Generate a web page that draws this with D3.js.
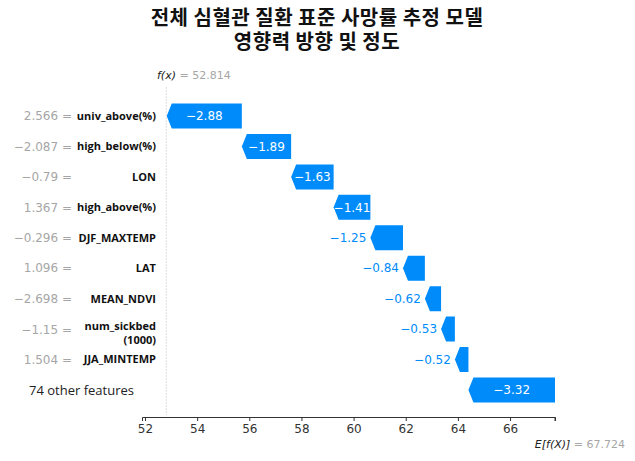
<!DOCTYPE html>
<html><head><meta charset="utf-8">
<script src="https://cdn.jsdelivr.net/npm/d3@7"></script>
<style>
body{margin:0;background:#fff;}
svg{display:block;}
</style></head>
<body>
<svg id="chart" width="635" height="461"></svg>
<script>
const titleLines = ["전체 심혈관 질환 표준 사망률 추정 모델", "영향력 방향 및 정도"];
const features = ["univ_above(%)", "high_below(%)", "LON", "high_above(%)", "DJF_MAXTEMP", "LAT", "MEAN_NDVI", "num_sickbed\n(1000)", "JJA_MINTEMP", "74 other features"];
const featureValues = ["2.566", "−2.087", "−0.79", "1.367", "−0.296", "1.096", "−2.698", "−1.15", "1.504", null];
const shapValues = [-2.88, -1.89, -1.63, -1.41, -1.25, -0.84, -0.62, -0.53, -0.52, -3.32];
const fxValue = 52.814;
const baseValue = 67.724;
const xTicks = [52, 54, 56, 58, 60, 62, 64, 66];

const svg = d3.select("#chart");
const blue = "#008bfb";
const grey = "#a6a6a6";

// title
svg.append("g").selectAll("text").data(titleLines).join("text")
  .attr("x", 317).attr("y", (d, i) => 25 + i * 24)
  .attr("text-anchor", "middle")
  .attr("font-family", "'Noto Sans CJK KR', sans-serif")
  .attr("font-weight", "bold").attr("font-size", 20)
  .attr("letter-spacing", 0.5)
  .attr("fill", "#111").text(d => d);

const x = d3.scaleLinear().domain([51.885, baseValue]).range([142, 555]);
const y = d3.scalePoint().domain(d3.range(features.length)).range([116, 390]);
const barH = 25;

// compute cumulative positions from the base value upward
const bars = [];
let end = baseValue;
for (let i = features.length - 1; i >= 0; i--) {
  const start = end + shapValues[i];
  bars[i] = {i, v: shapValues[i], x0: Math.min(start, end), x1: Math.max(start, end)};
  end = start;
}

// f(x) vertical line
svg.append("line")
  .attr("x1", x(fxValue)).attr("x2", x(fxValue))
  .attr("y1", 87).attr("y2", 415)
  .attr("stroke", "#ddd").attr("stroke-width", 1).attr("stroke-dasharray", "2,1");

// bars
const head = 5;
svg.append("g").selectAll("path").data(bars).join("path")
  .attr("d", d => {
    const a = x(d.x0), b = x(d.x1), c = y(d.i), t = c - barH / 2, bt = c + barH / 2;
    const h = Math.min(head, b - a);
    return `M${b},${t}L${b},${bt}L${a + h},${bt}L${a},${c}L${a + h},${t}Z`;
  })
  .attr("fill", blue);

// bar labels
const fmt = v => (v < 0 ? "−" : "+") + Math.abs(v).toFixed(2);
svg.append("g").selectAll("text").data(bars).join("text")
  .each(function(d) {
    const w = x(d.x1) - x(d.x0);
    const inside = w >= 34;
    d3.select(this)
      .attr("x", inside ? (x(d.x0) + x(d.x1)) / 2 : x(d.x0) - 4)
      .attr("text-anchor", inside ? "middle" : "end")
      .attr("fill", inside ? "#fff" : blue);
  })
  .attr("y", d => y(d.i)).attr("dy", "0.35em")
  .attr("font-family", "'DejaVu Sans', sans-serif").attr("font-size", 12)
  .text(d => fmt(d.v));

// feature names
const nameG = svg.append("g");
features.forEach((f, i) => {
  if (featureValues[i] === null) {
    nameG.append("text").attr("x", 134).attr("y", y(i)).attr("dy", "0.35em")
      .attr("text-anchor", "end")
      .attr("font-family", "'Open Sans', sans-serif").attr("font-size", 13)
      .attr("fill", "#222").text(f);
    return;
  }
  const lines = f.split("\n");
  lines.forEach((ln, k) => {
    nameG.append("text").attr("x", 156).attr("text-anchor", "end")
      .attr("font-family", "'Open Sans', sans-serif").attr("font-weight", "bold")
      .attr("font-size", 11).attr("fill", "#111")
      .attr("y", y(i) + (lines.length > 1 ? (k === 0 ? -3 : 11) : 0)).attr("dy", "0.35em").text(ln);
  });
  nameG.append("text").attr("x", 72).attr("y", y(i) + (lines.length > 1 ? 1 : 0)).attr("dy", "0.35em")
    .attr("text-anchor", "end")
    .attr("font-family", "'DejaVu Sans', sans-serif").attr("font-size", 12)
    .attr("fill", grey).text(featureValues[i] + " =");
});

// axis
const axis = svg.append("g").attr("transform", "translate(0,417)")
  .call(d3.axisBottom(x).tickValues(xTicks).tickFormat(d3.format("d")).tickSizeOuter(4).tickSize(4).tickPadding(3));
axis.select(".domain").attr("stroke", "#333");
axis.selectAll(".tick line").attr("stroke", "#333");
axis.selectAll(".tick text").attr("font-family", "'DejaVu Sans', sans-serif").attr("font-size", 12).attr("fill", "#333");
axis.append("line").attr("x1", x(baseValue)).attr("x2", x(baseValue)).attr("y1", 0).attr("y2", 4).attr("stroke", "#333");

// f(x) label
const fxT = svg.append("text").attr("x", 157).attr("y", 79)
  .attr("font-family", "'DejaVu Sans', sans-serif").attr("font-size", 11);
fxT.append("tspan").attr("font-style", "italic").attr("fill", "#222").text("f(x)");
fxT.append("tspan").attr("fill", grey).text(" = " + fxValue.toFixed(3));

// E[f(X)] label
const eT = svg.append("text").attr("x", 625).attr("y", 448).attr("text-anchor", "end")
  .attr("font-family", "'DejaVu Sans', sans-serif").attr("font-size", 11);
eT.append("tspan").attr("font-style", "italic").attr("fill", "#222").text("E[f(X)]");
eT.append("tspan").attr("fill", grey).text(" = " + baseValue.toFixed(3));
</script>
</body></html>
